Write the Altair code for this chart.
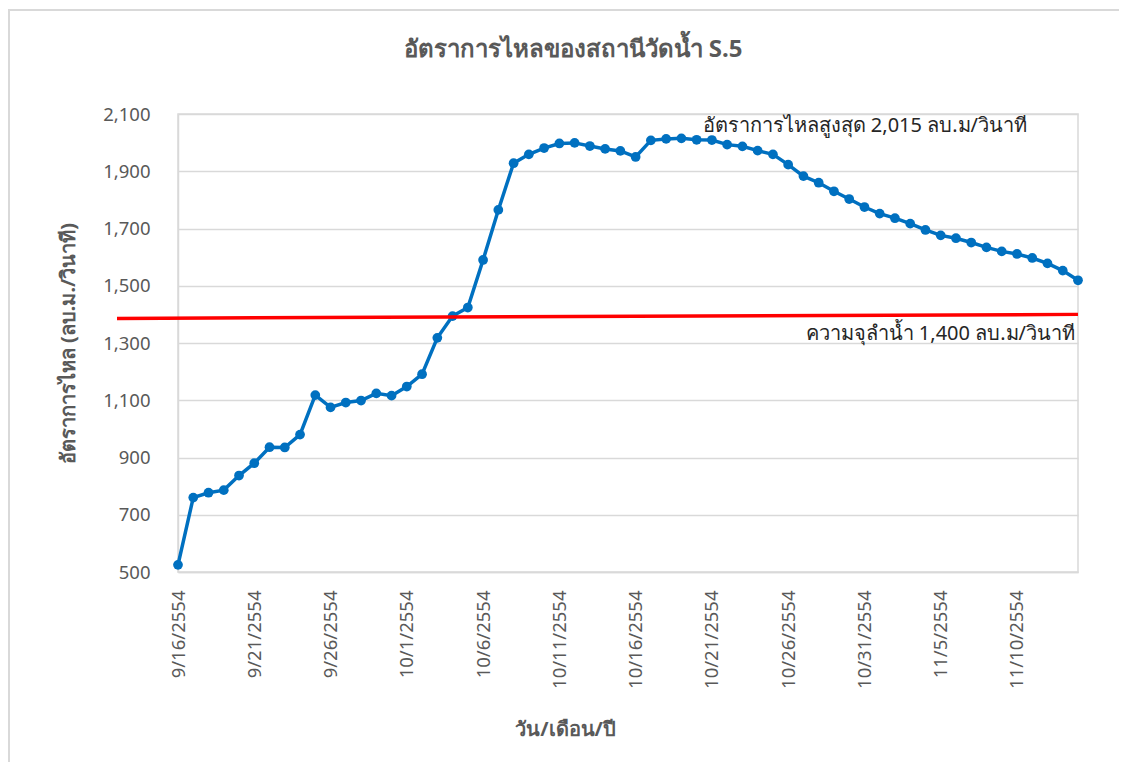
import altair as alt
import pandas as pd

# Data (Thai Buddhist year 2554 = 2011 CE)
start_date = "2011-09-16"
flow = [525, 760, 777, 786, 837, 880, 936, 935, 980, 1118,
        1075, 1092, 1099, 1124, 1116, 1148, 1191, 1318, 1394, 1424,
        1590, 1765, 1928, 1959, 1981, 1997, 1999, 1988, 1978, 1971,
        1950, 2008, 2013, 2015, 2010, 2009, 1993, 1987, 1972, 1959,
        1923, 1883, 1860, 1830, 1803, 1775, 1752, 1736, 1717, 1695,
        1676, 1666, 1651, 1634, 1620, 1611, 1597, 1578, 1553, 1519]
tick_dates = ["2011-09-16", "2011-09-21", "2011-09-26", "2011-10-01", "2011-10-06",
              "2011-10-11", "2011-10-16", "2011-10-21", "2011-10-26", "2011-10-31",
              "2011-11-05", "2011-11-10"]
y_ticks = [500, 700, 900, 1100, 1300, 1500, 1700, 1900, 2100]
capacity = 1400
max_flow = 2015

title_text = "อัตราการไหลของสถานีวัดน้ำ S.5"
x_title = "วัน/เดือน/ปี"
y_title = "อัตราการไหล (ลบ.ม./วินาที)"
max_label = "อัตราการไหลสูงสุด 2,015 ลบ.ม/วินาที"
cap_label = "ความจุลำน้ำ 1,400 ลบ.ม/วินาที"

dates = pd.date_range(start_date, periods=len(flow), freq="D").strftime("%Y-%m-%d").tolist()
df = pd.DataFrame({"date": dates, "flow": flow})

FONT = "Noto Sans"
GRAY = "#595959"


def dt(s):
    y, m, d = [int(v) for v in s.split("-")]
    return alt.DateTime(year=y, month=m, date=d, utc=True)


x_scale = alt.Scale(type="utc", domain=[dt(dates[0]), dt(dates[-1])])
y_scale = alt.Scale(domain=[y_ticks[0], y_ticks[-1]])

x_enc = alt.X(
    "date:T",
    scale=x_scale,
    axis=alt.Axis(
        values=[dt(s) for s in tick_dates],
        labelExpr="(utcmonth(datum.value)+1) + '/' + utcdate(datum.value) + '/' + (utcyear(datum.value)+543)",
        labelAngle=270,
        labelFontSize=18.5,
        labelColor=GRAY,
        labelFont=FONT,
        labelPadding=18,
        ticks=False,
        grid=False,
        domainColor="#d9d9d9",
        domainWidth=1.5,
        title=x_title,
        titleFont=FONT,
        titleFontSize=20,
        titleColor=GRAY,
        titleFontWeight="bold",
        titleX=387,
        titleY=157,
        titleAlign="center",
        titleBaseline="middle",
    ),
)
y_enc = alt.Y(
    "flow:Q",
    scale=y_scale,
    axis=alt.Axis(
        values=y_ticks,
        format=",.0f",
        labelFontSize=18.5,
        labelColor=GRAY,
        labelFont=FONT,
        labelPadding=28,
        ticks=False,
        grid=True,
        gridColor="#d9d9d9",
        gridWidth=1.5,
        domainColor="#d9d9d9",
        domainWidth=1.5,
        title=y_title,
        titleFont=FONT,
        titleFontSize=20,
        titleColor=GRAY,
        titleFontWeight="bold",
        titleX=-110,
        titleY=229,
        titleAngle=270,
        titleAlign="center",
        titleBaseline="middle",
    ),
)

base = alt.Chart(df)

frame = base.mark_rect(fillOpacity=0, stroke="#d9d9d9", strokeWidth=1.5).encode(
    x=alt.value(-169), x2=alt.value(944), y=alt.value(-104), y2=alt.value(700)
)

line = base.mark_line(
    color="#0070C0", strokeWidth=3.5,
    point=alt.OverlayMarkDef(filled=True, size=95, color="#0070C0", opacity=1),
).encode(x=x_enc, y=y_enc)

rule = alt.Chart(pd.DataFrame({"v": [capacity]})).mark_rule(color="#FF0000", strokeWidth=3.5).encode(
    x=alt.datum(dt("2011-09-12"), scale=x_scale),
    x2=alt.datum(dt(dates[-1])),
    y=alt.datum(capacity - 14, scale=y_scale),
    y2=alt.datum(capacity),
)

max_text = alt.Chart(pd.DataFrame({"t": [max_label]})).mark_text(
    align="left", baseline="middle", fontSize=20, font=FONT, color="#262626", dx=6
).encode(
    x=alt.datum(dt("2011-10-20"), scale=x_scale),
    y=alt.datum(2058, scale=y_scale),
    text="t:N",
)

cap_text = alt.Chart(pd.DataFrame({"t": [cap_label]})).mark_text(
    align="right", baseline="middle", fontSize=20, font=FONT, color="#262626", dx=-3, dy=20
).encode(
    x=alt.datum(dt(dates[-1]), scale=x_scale),
    y=alt.datum(capacity, scale=y_scale),
    text="t:N",
)

title = alt.Chart(pd.DataFrame({"t": [title_text]})).mark_text(
    align="center", baseline="middle", fontSize=24, font=FONT, color=GRAY, fontWeight="bold"
).encode(x=alt.value(395), y=alt.value(-64), text="t:N")

chart = alt.layer(frame, line, rule, max_text, cap_text, title).properties(
    width=900,
    height=458,
    padding={"left": 170, "top": 106, "right": 41, "bottom": 190},
    autosize=alt.AutoSizeParams(type="none"),
    background="white",
).configure_view(stroke="#d9d9d9", strokeWidth=1.5)

chart.save("out.html", embed_options={"renderer": "svg", "actions": False})
